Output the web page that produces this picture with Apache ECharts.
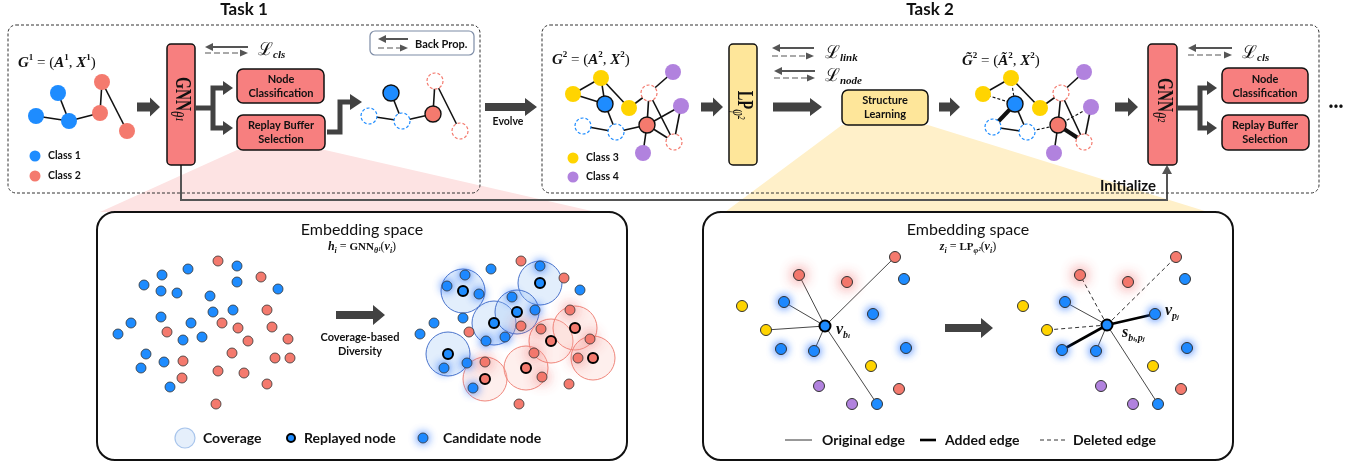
<!DOCTYPE html>
<html><head><meta charset="utf-8">
<script src="https://cdn.jsdelivr.net/npm/echarts@6/dist/echarts.min.js"></script>
<style>html,body{margin:0;padding:0;background:#fff}#c{width:1364px;height:465px}</style>
</head><body><div id="c"></div>
<script>
const W = 1364, H = 465;
const SANS = "Lato, 'Open Sans', sans-serif";
const SERIF = "'Liberation Serif', 'DejaVu Serif', serif";
const C = {blue:'#1e8cff', red:'#f47a6e', yellow:'#ffd400', purple:'#b182de', ink:'#111', arrow:'#424242', boxRed:'#f77f7f', boxYellow:'#fee69a'};

// ---------- Task 1 graphs ----------
const g1Nodes = [[58,93],[36,116],[69,121],[102,82],[100,113],[127,131]];
const g1Kinds = ['blue','blue','blue','red','red','red'];
const g1Edges = [[0,2],[1,2],[2,4],[4,3],[3,5]];
const g1bNodes = [[391,93],[369,116],[402,121],[435,81],[433,114],[460,131]];
const g1bKinds = ['blueSel','blueDash','blueDash','redDash','redSel','redDash'];
// ---------- Task 2 graphs ----------
const g2Nodes = [[573,94],[601,78],[605,104],[629,108],[649,93],[673,72],[681,106],[647,125],[583,126],[616,132],[674,142],[643,153]];
const g2Kinds = ['yellow','yellow','blueSel','yellow','redDash','purple','purple','redSel','blueDash','blueDash','redDash','purple'];
const g2Edges = [[0,1],[0,2],[1,2],[1,3],[2,9],[8,9],[9,7],[3,4],[4,5],[4,7],[4,10],[7,6],[6,10],[7,10],[7,11]];
const g2tNodes = [[983,94],[1011,78],[1015,104],[1040,108],[1061,93],[1084,72],[1091,107],[1058,125],[993,127],[1027,132],[1084,142],[1054,153]];
const g2tEdges = [[0,1,'s'],[0,2,'d'],[1,2,'d'],[1,3,'s'],[2,8,'t'],[2,9,'s'],[8,9,'s'],[9,7,'d'],[3,4,'s'],[4,5,'s'],[4,7,'s'],[4,10,'s'],[7,6,'d'],[6,10,'s'],[7,10,'t'],[7,11,'s']];
const classLegendPts = [[35,156],[35,176],[573,158],[573,177]];
const classLegendKinds = ['blueL','redL','yellowL','purpleL'];

// ---------- Embedding space (GNN) ----------
const embRed = [[218,261],[261,277],[267,310],[222,323],[238,328],[167,332],[272,327],[248,341],[288,339],[232,353],[275,358],[290,358],[183,361],[218,371],[244,373],[182,378],[267,384],[216,404]];
const embBlue = [[237,266],[188,269],[162,275],[144,285],[161,291],[177,293],[237,282],[278,289],[210,296],[233,310],[213,312],[161,317],[131,323],[191,323],[118,334],[183,340],[202,337],[146,354],[164,362],[141,368],[170,387]];
const covBlue = [[463,291],[540,283],[494,323],[517,312],[448,354]];
const covRed = [[485,379],[526,368],[551,341],[575,328],[593,358]];
const candBlue = [[465,275],[447,286],[479,294],[540,266],[512,297],[535,310],[486,341],[505,337],[467,363],[444,368],[473,388]];
const candRed = [[521,326],[541,329],[570,310],[590,339],[578,358],[534,353],[542,377],[485,362]];
const plainBlue2 = [[491,269],[580,290],[463,318],[434,323],[420,334]];
const plainRed2 = [[521,261],[564,278],[469,332],[569,384],[519,404]];
const covLegend = [[185,438]], repLegend = [[291,438]], candLegend = [[423,438]];

// ---------- Embedding space (LP) ----------
const lpKinds = ['center','redGlow','redGlow','red','blue','blueGlow','blueGlow','yellow','yellow','blueGlow','blueGlow','blueGlow','yellow','purple','red','purple','blue'];
const lpLeftNodes = [[825,326],[799,275],[847,282],[895,257],[904,279],[784,302],[873,314],[742,306],[766,330],[781,349],[814,351],[906,348],[871,366],[819,386],[899,389],[852,404],[877,404]];
const lpLeftEdges = [[0,1,'s'],[0,3,'s'],[0,5,'s'],[0,8,'s'],[0,10,'s'],[0,16,'s']];
const lpRightNodes = [[1107,325],[1080,275],[1128,282],[1176,257],[1185,279],[1065,302],[1155,314],[1023,306],[1047,330],[1062,350],[1096,351],[1187,348],[1153,366],[1101,386],[1181,389],[1133,404],[1158,404]];
const lpRightEdges = [[0,1,'d'],[0,3,'d'],[0,5,'s'],[0,8,'d'],[0,9,'t'],[0,10,'s'],[0,16,'s'],[0,6,'t']];

// ---------- layout of the diagram ----------
const fanPink = [[237,150],[325,150],[596,212],[100,212]];
const fanYellow = [[842,125],[928,125],[1208,212],[725,212]];
const taskFrames = [[8,25,480,193],[542,25,1319,193]];
const embedFrames = [[97,212,627,460],[703,212,1233,460]];
const moduleBoxes = [[167,44,195,165,'r'],[729,44,757,165,'y'],[1148,44,1177,165,'r']];
const stepBoxes = [[237,69,324,103,'r'],[237,115,325,150,'r'],[842,90,928,125,'y'],[1222,68,1308,103,'r'],[1222,115,1309,150,'r']];
const backPropBox = [370,31,474,55];
const fatArrows = [[137,160,107,9,19,10],[485,537,107,8,18,12],[701,723,107,9,19,10],[773,822,107,9,18,12],[939,960,107,9,19,10],[1115,1138,107,9,19,10],[336,385,315,8,20,12],[945,993,328,8,20,12]];
const branchArrows = [[195,213,108,88,128,233],[1177,1200,108,88,128,1217]];
const stepArrow = [[327,132],[340,132],[340,102],[352,102]];
const bpArrows = [[205,248,47,53],[378,408,39,48],[772,814,48,56],[774,815,71,78],[1188,1232,48,55]];
const initPath = [[181,165],[181,200],[1167,200],[1167,168]];
const edgeLegend = [[[785,440],[812,440],'s'],[[920,440],[936,440],'t'],[[1040,440],[1066,440],'d']];

const textStyles = {
  title:{fontSize:17, fontWeight:'bold'},
  small:{fontSize:10.5, fontWeight:'bold'},
  bp:{fontSize:11, fontWeight:'bold'},
  box:{fontSize:11, fontWeight:'bold', lineHeight:14},
  init:{fontSize:15, fontWeight:'bold'},
  dots:{fontSize:18, fontWeight:'bold'},
  emb:{fontSize:16},
  cov:{fontSize:11, fontWeight:'bold', lineHeight:14},
  legend:{fontSize:14, fontWeight:'bold'}
};
const R = extra => Object.assign({fontFamily:SERIF, fill:'#111'}, extra);
const mathRich = {
  m:R({fontSize:15, fontStyle:'italic', fontWeight:'bold', lineHeight:20}),
  n:R({fontSize:15, lineHeight:20}),
  sp:R({fontSize:9, fontWeight:'bold', verticalAlign:'top', lineHeight:13}),
  L:R({fontSize:18, lineHeight:22}),
  sb:R({fontSize:11, fontStyle:'italic', fontWeight:'bold', verticalAlign:'bottom', lineHeight:12}),
  m2:R({fontSize:12, fontStyle:'italic', fontWeight:'bold', lineHeight:16}),
  n2:R({fontSize:12, lineHeight:16}),
  b2:R({fontSize:11, fontWeight:'bold', lineHeight:16}),
  sb2:R({fontSize:8, fontStyle:'italic', fontWeight:'bold', verticalAlign:'bottom', lineHeight:9}),
  v:R({fontSize:16, fontStyle:'italic', fontWeight:'bold', lineHeight:20}),
  vs:R({fontSize:10, fontStyle:'italic', fontWeight:'bold', verticalAlign:'bottom', lineHeight:11}),
  vss:R({fontSize:7, fontStyle:'italic', fontWeight:'bold', verticalAlign:'bottom', lineHeight:7}),
  g:R({fontSize:17, fontWeight:'bold', lineHeight:24}),
  gs:R({fontSize:14, fontStyle:'italic', verticalAlign:'bottom', lineHeight:15})
};
const textItems = [
  {t:'Task 1', p:[244,10], s:'title'},
  {t:'Task 2', p:[930,10], s:'title'},
  {t:'Back Prop.', p:[415,44], s:'bp', a:'left'},
  {t:'Evolve', p:[508,122], s:'small'},
  {t:'Initialize', p:[1128,186], s:'init'},
  {t:'···', p:[1336,106], s:'dots'},
  {t:'Class 1', p:[48,156], s:'small', a:'left'},
  {t:'Class 2', p:[48,176], s:'small', a:'left'},
  {t:'Class 3', p:[586,158], s:'small', a:'left'},
  {t:'Class 4', p:[586,177], s:'small', a:'left'},
  {t:'Node\nClassification', p:[281,86], s:'box'},
  {t:'Replay Buffer\nSelection', p:[281,132], s:'box'},
  {t:'Structure\nLearning', p:[885,107], s:'box'},
  {t:'Node\nClassification', p:[1265,86], s:'box'},
  {t:'Replay Buffer\nSelection', p:[1265,132], s:'box'},
  {t:'Embedding space', p:[362,230], s:'emb'},
  {t:'Embedding space', p:[968,230], s:'emb'},
  {t:'Coverage-based\nDiversity', p:[360,344], s:'cov'},
  {t:'Coverage', p:[203,438], s:'legend', a:'left'},
  {t:'Replayed node', p:[304,438], s:'legend', a:'left'},
  {t:'Candidate node', p:[443,438], s:'legend', a:'left'},
  {t:'Original edge', p:[822,440], s:'legend', a:'left'},
  {t:'Added edge', p:[945,440], s:'legend', a:'left'},
  {t:'Deleted edge', p:[1073,440], s:'legend', a:'left'},
  {t:'{m|G}{sp|1}{n| = (}{m|A}{sp|1}{n|, }{m|X}{sp|1}{n|)}', p:[18,63], a:'left', rich:mathRich},
  {t:'{m|G}{sp|2}{n| = (}{m|A}{sp|2}{n|, }{m|X}{sp|2}{n|)}', p:[552,60], a:'left', rich:mathRich},
  {t:'{m|G\u0303}{sp|2}{n| = (}{m|A\u0303}{sp|2}{n|, }{m|X}{sp|2}{n|)}', p:[962,61], a:'left', rich:mathRich},
  {t:'{L|ℒ}{sb|cls}', p:[258,50], a:'left', rich:mathRich},
  {t:'{L|ℒ}{sb|link}', p:[825,53], a:'left', rich:mathRich},
  {t:'{L|ℒ}{sb|node}', p:[825,76], a:'left', rich:mathRich},
  {t:'{L|ℒ}{sb|cls}', p:[1242,53], a:'left', rich:mathRich},
  {t:'{m2|h}{sb2|i}{n2| = }{b2|GNN}{sb2|θ¹}{n2|(}{m2|v}{sb2|i}{n2|)}', p:[362,247], rich:mathRich},
  {t:'{m2|z}{sb2|i}{n2| = }{b2|LP}{sb2|φ²}{n2|(}{m2|v}{sb2|i}{n2|)}', p:[968,247], rich:mathRich},
  {t:'{v|v}{vs|b}{vss|i}', p:[836,330], a:'left', rich:mathRich},
  {t:'{v|v}{vs|p}{vss|j}', p:[1165,311], a:'left', rich:mathRich},
  {t:'{v|s}{vs|b}{vss|i}{vs|,p}{vss|j}', p:[1122,333], a:'left', rich:mathRich},
  {t:'{g|GNN}{gs|θ¹}', p:[182,99], rich:mathRich, rot:-Math.PI/2, sx:0.9, sy:1.3},
  {t:'{g|LP}{gs|φ²}', p:[744,105], rich:mathRich, rot:-Math.PI/2, sx:0.85, sy:1.3},
  {t:'{g|GNN}{gs|θ²}', p:[1164,100], rich:mathRich, rot:-Math.PI/2, sx:0.9, sy:1.3}
];

// ---------- styles ----------
const taskNodeStyles = {
  blue:{size:16, item:{color:C.blue}},
  red:{size:16, item:{color:C.red}},
  yellow:{size:16, item:{color:C.yellow}},
  purple:{size:16, item:{color:C.purple}},
  blueSel:{size:16, item:{color:C.blue, borderColor:'#111', borderWidth:1.4}},
  redSel:{size:16, item:{color:C.red, borderColor:'#111', borderWidth:1.4}},
  blueDash:{size:16, item:{color:'#fff', borderColor:C.blue, borderWidth:1.2, borderType:[3,2]}},
  redDash:{size:16, item:{color:'#fff', borderColor:C.red, borderWidth:1.2, borderType:[3,2]}},
  blueL:{size:11, item:{color:C.blue}},
  redL:{size:11, item:{color:C.red}},
  yellowL:{size:11, item:{color:C.yellow}},
  purpleL:{size:11, item:{color:C.purple}}
};
const edgeStyles = {
  s:{color:'#111', width:1.6, type:'solid', opacity:1},
  d:{color:'#111', width:1.1, type:[3,2], opacity:1},
  t:{color:'#111', width:4, type:'solid', opacity:1}
};
const embEdgeStyles = {
  s:{color:'#333', width:0.9, type:'solid', opacity:1},
  d:{color:'#333', width:1, type:[4,3], opacity:1},
  t:{color:'#000', width:2.6, type:'solid', opacity:1}
};
const glowB = {shadowBlur:9, shadowColor:'rgba(30,110,255,0.95)'};
const glowR = {shadowBlur:13, shadowColor:'rgba(240,90,90,0.9)'};
const lpStyles = {
  center:{size:11, item:{color:C.blue, borderColor:'#000', borderWidth:2}},
  blue:{size:11, item:{color:C.blue, borderColor:'#333', borderWidth:1}},
  red:{size:11, item:{color:C.red, borderColor:'#333', borderWidth:1}},
  yellow:{size:11, item:{color:C.yellow, borderColor:'#333', borderWidth:1}},
  purple:{size:11, item:{color:C.purple, borderColor:'#333', borderWidth:1}},
  blueGlow:{size:11, item:Object.assign({color:C.blue, borderColor:'#333', borderWidth:1}, glowB)},
  redGlow:{size:11, item:Object.assign({color:C.red, borderColor:'#333', borderWidth:1}, glowR)}
};

function nodeSeries(nodes, kinds, styles, z) {
  return Object.keys(styles).map(k => ({
    type:'scatter', silent:true, z:z||4, symbolSize:styles[k].size,
    data:nodes.filter((_, i) => kinds[i] === k),
    itemStyle:Object.assign({opacity:1}, styles[k].item)
  })).filter(s => s.data.length);
}
function edgeSeries(nodes, edges, styles) {
  return {type:'lines', coordinateSystem:'cartesian2d', z:3, silent:true, lineStyle:{opacity:1},
    data:edges.map(e => ({coords:[nodes[e[0]], nodes[e[1]]], lineStyle:styles[e[2] || 's']}))};
}
function pts(data, size, item, z) {
  return {type:'scatter', silent:true, z:z||4, symbolSize:size, data:data, itemStyle:Object.assign({opacity:1}, item)};
}

function renderBg(params, api) {
  const P = p => api.coord(p);
  const rect = (b, style, r) => { const a = P([b[0], b[1]]), c = P([b[2], b[3]]); return {type:'rect', shape:{x:a[0], y:a[1], width:c[0]-a[0], height:c[1]-a[1], r:r||0}, style:style}; };
  const poly = (points, fill) => ({type:'polygon', shape:{points:points.map(P)}, style:{fill:fill, stroke:'none'}});
  const pline = (points, stroke, lw, dash) => ({type:'polyline', shape:{points:points.map(P)}, style:{stroke:stroke, lineWidth:lw, fill:'none', lineDash:dash || null, lineJoin:'miter', lineCap:'butt'}});
  const ch = [];
  ch.push(poly(fanPink, '#fde3e3'));
  ch.push(poly(fanYellow, '#fff0c9'));
  const e = initPath[initPath.length - 1];
  ch.push(pline(initPath.slice(0, -1).concat([[e[0], e[1] + 4]]), '#555', 2));
  ch.push(poly([[e[0]-5, e[1]+6], [e[0], e[1]-3], [e[0]+5, e[1]+6]], '#555'));
  taskFrames.forEach(f => ch.push(rect(f, {fill:'none', stroke:'#333', lineWidth:1, lineDash:[3,2]}, 8)));
  embedFrames.forEach(f => ch.push(rect(f, {fill:'#fff', stroke:'#111', lineWidth:2}, 18)));
  moduleBoxes.forEach(b => ch.push(rect(b, {fill:b[4] === 'r' ? C.boxRed : C.boxYellow, stroke:'#111', lineWidth:1.5}, 4)));
  stepBoxes.forEach(b => ch.push(rect(b, {fill:b[4] === 'r' ? C.boxRed : C.boxYellow, stroke:'#111', lineWidth:1.5}, 6)));
  ch.push(rect(backPropBox, {fill:'#fff', stroke:'#7d8ca6', lineWidth:1.2}, 5));
  fatArrows.forEach(a => {
    const [x1, x2, y, s, h, hl] = a;
    ch.push(poly([[x1, y-s/2], [x2-hl, y-s/2], [x2-hl, y-h/2], [x2, y], [x2-hl, y+h/2], [x2-hl, y+s/2], [x1, y+s/2]], C.arrow));
  });
  branchArrows.forEach(b => {
    const [xs, xm, ym, yt, yb, xe] = b;
    ch.push(pline([[xs, ym], [xm, ym]], C.arrow, 5));
    ch.push(pline([[xe-9, yt], [xm, yt], [xm, yb], [xe-9, yb]], C.arrow, 5));
    ch.push(poly([[xe-10, yt-7], [xe, yt], [xe-10, yt+7]], C.arrow));
    ch.push(poly([[xe-10, yb-7], [xe, yb], [xe-10, yb+7]], C.arrow));
  });
  ch.push(pline(stepArrow, C.arrow, 5));
  const st = stepArrow[stepArrow.length - 1];
  ch.push(poly([[st[0]-2, st[1]-8], [st[0]+10, st[1]], [st[0]-2, st[1]+8]], C.arrow));
  bpArrows.forEach(b => {
    const [xl, xr, ys, yd] = b;
    ch.push(pline([[xl+6, ys], [xr, ys]], '#555', 2));
    ch.push(poly([[xl, ys], [xl+8, ys-4], [xl+8, ys+4]], '#555'));
    ch.push(pline([[xl, yd], [xr-6, yd]], '#555', 1.1, [6,3]));
    ch.push(poly([[xr, yd], [xr-8, yd-3.5], [xr-8, yd+3.5]], '#555'));
  });
  return {type:'group', children:ch};
}

function renderFg(params, api) {
  const P = p => api.coord(p);
  const ch = [];
  edgeLegend.forEach(l => {
    const st = embEdgeStyles[l[2]];
    const a = P(l[0]), b = P(l[1]);
    ch.push({type:'line', shape:{x1:a[0], y1:a[1], x2:b[0], y2:b[1]}, style:{stroke:st.color, lineWidth:st.width === 0.9 ? 1 : st.width, lineDash:l[2] === 'd' ? [4,3] : null}});
  });
  textItems.forEach(it => {
    const q = P(it.p);
    ch.push({type:'text', x:q[0], y:q[1], rotation:it.rot || 0, scaleX:it.sx || 1, scaleY:it.sy || 1,
      style:Object.assign({text:it.t, fill:'#111', fontFamily:SANS, fontSize:12, align:it.a || 'center', verticalAlign:'middle', rich:it.rich}, textStyles[it.s] || {})});
  });
  return {type:'group', children:ch};
}

const series = [
  {type:'custom', z:1, silent:true, clip:false, data:[[0,0]], renderItem:renderBg},
  edgeSeries(g1Nodes, g1Edges, edgeStyles),
  edgeSeries(g1bNodes, g1Edges, edgeStyles),
  edgeSeries(g2Nodes, g2Edges, edgeStyles),
  edgeSeries(g2tNodes, g2tEdges, edgeStyles),
  edgeSeries(lpLeftNodes, lpLeftEdges, embEdgeStyles),
  edgeSeries(lpRightNodes, lpRightEdges, embEdgeStyles),
  pts(covBlue, 44, {color:'rgba(160,200,245,0.30)', borderColor:'#4a74cc', borderWidth:1}, 3),
  pts(covRed, 44, {color:'rgba(250,190,185,0.25)', borderColor:'#f0877c', borderWidth:1}, 3),
  pts(covLegend, 20, {color:'#e5effb', borderColor:'#a8c5ec', borderWidth:1.2}, 3)
].concat(
  nodeSeries(g1Nodes, g1Kinds, taskNodeStyles),
  nodeSeries(g1bNodes, g1bKinds, taskNodeStyles),
  nodeSeries(g2Nodes, g2Kinds, taskNodeStyles),
  nodeSeries(g2tNodes, g2Kinds, taskNodeStyles),
  nodeSeries(classLegendPts, classLegendKinds, taskNodeStyles),
  [
    pts(embRed, 10, {color:C.red, borderColor:'#333', borderWidth:0.8}),
    pts(embBlue, 10, {color:C.blue, borderColor:'#333', borderWidth:0.8}),
    pts(plainRed2, 10, {color:C.red, borderColor:'#333', borderWidth:0.8}),
    pts(plainBlue2, 10, {color:C.blue, borderColor:'#333', borderWidth:0.8}),
    pts(candBlue, 10, Object.assign({color:C.blue, borderColor:'#333', borderWidth:0.8}, glowB)),
    pts(candRed, 10, Object.assign({color:C.red, borderColor:'#333', borderWidth:0.8}, glowR)),
    pts(covBlue, 10, {color:C.blue, borderColor:'#000', borderWidth:2}, 5),
    pts(covRed, 10, {color:C.red, borderColor:'#000', borderWidth:2}, 5),
    pts(repLegend, 8, {color:C.blue, borderColor:'#000', borderWidth:2}),
    pts(candLegend, 10, Object.assign({color:C.blue, borderColor:'#333', borderWidth:0.8}, glowB))
  ],
  nodeSeries(lpLeftNodes, lpKinds, lpStyles),
  nodeSeries(lpRightNodes, lpKinds, lpStyles),
  [{type:'custom', z:8, silent:true, clip:false, data:[[0,0]], renderItem:renderFg}]
);

const chart = echarts.init(document.getElementById('c'), null, {renderer:'canvas'});
chart.setOption({
  animation:false,
  grid:{left:0, right:0, top:0, bottom:0},
  xAxis:{type:'value', min:0, max:W, show:false},
  yAxis:{type:'value', min:0, max:H, inverse:true, show:false},
  series:series
});
</script></body></html>
